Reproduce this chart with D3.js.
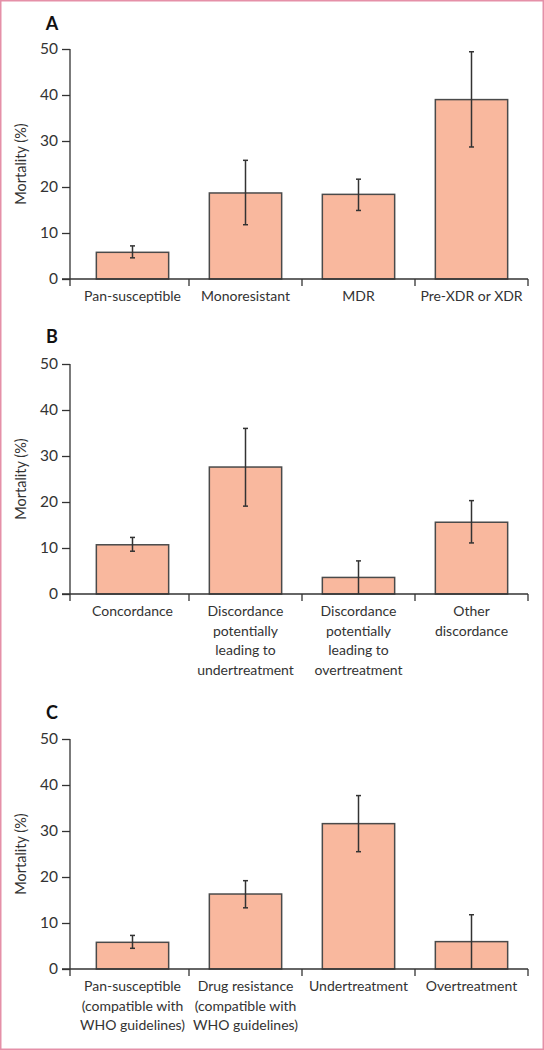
<!DOCTYPE html>
<html>
<head>
<meta charset="utf-8">
<script src="https://cdn.jsdelivr.net/npm/d3@7"></script>
<style>
  html, body { margin: 0; padding: 0; background: #fff; }
  svg { display: block; }
  text { font-family: Lato, "Open Sans", sans-serif; fill: #333; }
</style>
</head>
<body>
<svg id="chart" width="544" height="1050"></svg>
<script>
// ---- Data ----
const panelLetters = ["A", "B", "C"];

const categoriesA = ["Pan-susceptible", "Monoresistant", "MDR", "Pre-XDR or XDR"];
const valuesA = [5.8, 18.7, 18.4, 39.0];
const lowerA = [4.6, 11.8, 14.9, 28.7];
const upperA = [7.2, 25.8, 21.7, 49.4];

const categoriesB = [
  "Concordance",
  "Discordance\npotentially\nleading to\nundertreatment",
  "Discordance\npotentially\nleading to\novertreatment",
  "Other\ndiscordance"
];
const valuesB = [10.7, 27.6, 3.6, 15.6];
const lowerB = [9.3, 19.1, 0, 11.1];
const upperB = [12.3, 36.0, 7.2, 20.3];

const categoriesC = [
  "Pan-susceptible\n(compatible with\nWHO guidelines)",
  "Drug resistance\n(compatible with\nWHO guidelines)",
  "Undertreatment",
  "Overtreatment"
];
const valuesC = [5.8, 16.3, 31.6, 5.95];
const lowerC = [4.5, 13.3, 25.5, 0];
const upperC = [7.3, 19.2, 37.7, 11.8];

const yTicks = [0, 10, 20, 30, 40, 50];
const yLabel = "Mortality (%)";

// ---- Layout ----
const svg = d3.select("#chart");
const W = 544, H = 1050;

svg.append("rect")
  .attr("x", 0.75).attr("y", 0.75)
  .attr("width", W - 1.5).attr("height", H - 1.5)
  .attr("fill", "none").attr("stroke", "#e590a8").attr("stroke-width", 1.5);

const panels = [
  { letter: panelLetters[0], cats: categoriesA, vals: valuesA, lo: lowerA, hi: upperA, top: 49, bottom: 279, letterY: 24 },
  { letter: panelLetters[1], cats: categoriesB, vals: valuesB, lo: lowerB, hi: upperB, top: 364, bottom: 594, letterY: 337 },
  { letter: panelLetters[2], cats: categoriesC, vals: valuesC, lo: lowerC, hi: upperC, top: 739, bottom: 969, letterY: 713 }
];

const axisX = 70;
const xRangeStart = 76, xRangeEnd = 528;
const barFill = "#f9b89e", barStroke = "#4a4a4a", errColor = "#333";

panels.forEach(p => {
  const g = svg.append("g");
  const y = d3.scaleLinear().domain([0, 50]).range([p.bottom, p.top]);
  const x = d3.scaleBand().domain(p.cats).range([xRangeStart, xRangeEnd])
    .paddingInner(0.36).paddingOuter(0.18);
  const sep = d3.scaleBand().domain(p.cats).range([xRangeStart, xRangeEnd]).padding(0);

  // panel letter
  g.append("text").attr("x", 52).attr("y", p.letterY).attr("dy", "0.35em")
    .attr("text-anchor", "middle").attr("font-size", 18).attr("font-weight", "bold")
    .style("fill", "#111").text(p.letter);

  // bars
  const data = p.cats.map((c, i) => ({ c, v: p.vals[i], lo: p.lo[i], hi: p.hi[i] }));
  g.selectAll("rect.bar").data(data).join("rect").attr("class", "bar")
    .attr("x", d => x(d.c)).attr("width", x.bandwidth())
    .attr("y", d => y(d.v)).attr("height", d => y(0) - y(d.v))
    .attr("fill", barFill).attr("stroke", barStroke).attr("stroke-width", 1.5);

  // error bars
  const cx = d => x(d.c) + x.bandwidth() / 2;
  g.selectAll("line.err").data(data).join("line").attr("class", "err")
    .attr("x1", cx).attr("x2", cx).attr("y1", d => y(d.lo)).attr("y2", d => y(d.hi))
    .attr("stroke", errColor).attr("stroke-width", 1.5);
  g.selectAll("line.capHi").data(data).join("line").attr("class", "capHi")
    .attr("x1", d => cx(d) - 2.5).attr("x2", d => cx(d) + 2.5)
    .attr("y1", d => y(d.hi)).attr("y2", d => y(d.hi))
    .attr("stroke", errColor).attr("stroke-width", 1.5);
  g.selectAll("line.capLo").data(data.filter(d => d.lo > 0)).join("line").attr("class", "capLo")
    .attr("x1", d => cx(d) - 2.5).attr("x2", d => cx(d) + 2.5)
    .attr("y1", d => y(d.lo)).attr("y2", d => y(d.lo))
    .attr("stroke", errColor).attr("stroke-width", 1.5);

  // y axis
  const yAxis = d3.axisLeft(y).tickValues(yTicks).tickSize(8).tickPadding(4).tickSizeOuter(0);
  const ya = g.append("g").attr("transform", `translate(${axisX},0)`).call(yAxis);
  ya.select(".domain").remove();
  ya.selectAll(".tick line").attr("stroke", "#333").attr("stroke-width", 1.3);
  ya.selectAll(".tick text").attr("font-size", 15.5).attr("font-family", "Lato, sans-serif").style("fill", "#333");
  g.append("line").attr("x1", axisX).attr("x2", axisX).attr("y1", p.top).attr("y2", p.bottom + 7)
    .attr("stroke", "#333").attr("stroke-width", 1.3);

  // x axis line
  g.append("line").attr("x1", axisX - 8).attr("x2", xRangeEnd).attr("y1", p.bottom).attr("y2", p.bottom)
    .attr("stroke", "#333").attr("stroke-width", 1.3);
  // separator ticks
  g.selectAll("line.sep").data(p.cats).join("line").attr("class", "sep")
    .attr("x1", d => sep(d) + sep.bandwidth()).attr("x2", d => sep(d) + sep.bandwidth())
    .attr("y1", p.bottom).attr("y2", p.bottom + 7)
    .attr("stroke", "#333").attr("stroke-width", 1.3);

  // category labels
  const lbl = g.selectAll("text.cat").data(p.cats).join("text").attr("class", "cat")
    .attr("text-anchor", "middle").attr("font-size", 14)
    .attr("transform", d => `translate(${x(d) + x.bandwidth() / 2},${p.bottom + 22})`);
  lbl.selectAll("tspan").data(d => d.split("\n")).join("tspan")
    .attr("x", 0).attr("y", (d, i) => i * 19.7).text(d => d);

  // y label
  g.append("text").attr("font-size", 14.5).attr("text-anchor", "middle")
    .attr("transform", `translate(21,${(p.top + p.bottom) / 2}) rotate(-90)`)
    .attr("dy", "0.35em").text(yLabel);
});
</script>
</body>
</html>
